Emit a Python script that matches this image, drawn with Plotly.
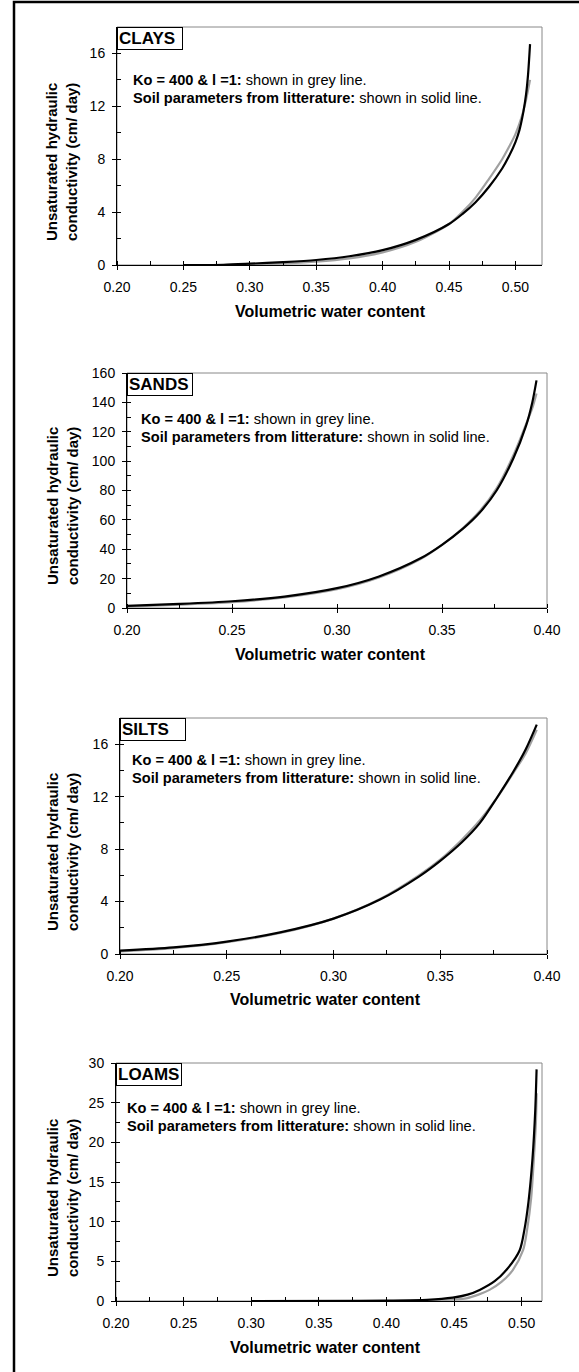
import plotly.graph_objects as go

W, H = 579, 1372

# ---------------- data ----------------
# CLAYS
clays_x_lit = [0.25, 0.28, 0.30, 0.325, 0.35, 0.375, 0.40, 0.425, 0.45, 0.46, 0.47, 0.48, 0.49, 0.495, 0.50, 0.503, 0.506, 0.508, 0.5095, 0.511]
clays_k_lit = [0.0, 0.02, 0.1, 0.22, 0.38, 0.66, 1.12, 1.9, 3.1, 3.85, 4.75, 5.9, 7.3, 8.2, 9.3, 10.2, 11.6, 12.9, 14.4, 16.7]
clays_x_ko = [0.25, 0.28, 0.30, 0.325, 0.35, 0.375, 0.40, 0.425, 0.45, 0.46, 0.47, 0.48, 0.49, 0.495, 0.50, 0.505, 0.508, 0.511]
clays_k_ko = [0.0, 0.0, 0.03, 0.12, 0.25, 0.5, 0.95, 1.75, 3.1, 4.0, 5.1, 6.5, 8.0, 8.9, 9.9, 11.3, 12.5, 14.0]

# SANDS
sands_x_lit = [0.20, 0.225, 0.25, 0.275, 0.30, 0.32, 0.34, 0.35, 0.36, 0.368, 0.376, 0.384, 0.39, 0.393, 0.395]
sands_k_lit = [1.5, 2.8, 4.6, 7.8, 13.5, 21.5, 34, 43, 54, 65, 80, 102, 124, 140, 155]
sands_x_ko = [0.20, 0.225, 0.25, 0.275, 0.30, 0.32, 0.34, 0.35, 0.36, 0.368, 0.376, 0.384, 0.39, 0.393, 0.395]
sands_k_ko = [1.0, 2.3, 4.0, 7.2, 12.8, 20.8, 33.5, 43, 54.5, 66, 81.5, 104, 125, 136, 146]

# SILTS
silts_x_lit = [0.20, 0.225, 0.25, 0.275, 0.30, 0.3218, 0.34, 0.35, 0.36, 0.3686, 0.3765, 0.3842, 0.39, 0.3952]
silts_k_lit = [0.25, 0.5, 0.95, 1.65, 2.7, 4.15, 5.9, 7.1, 8.5, 10.0, 11.9, 13.9, 15.6, 17.5]
silts_x_ko = [0.20, 0.225, 0.25, 0.275, 0.30, 0.3218, 0.34, 0.35, 0.36, 0.3686, 0.3765, 0.3842, 0.39, 0.3952]
silts_k_ko = [0.2, 0.45, 0.9, 1.6, 2.7, 4.2, 6.0, 7.2, 8.7, 10.2, 11.9, 13.8, 15.3, 17.1]

# LOAMS
loams_x_lit = [0.30, 0.38, 0.40, 0.43, 0.449, 0.46, 0.4689, 0.48, 0.4886, 0.4985, 0.502, 0.505, 0.508, 0.510, 0.511]
loams_k_lit = [0.0, 0.02, 0.05, 0.15, 0.42, 0.8, 1.4, 2.5, 3.9, 6.4, 9.0, 12.5, 18.0, 24.0, 29.2]
loams_x_ko = [0.30, 0.40, 0.43, 0.45, 0.459, 0.468, 0.4762, 0.485, 0.4934, 0.501, 0.504, 0.507, 0.509, 0.5105, 0.511]
loams_k_ko = [0.0, 0.0, 0.05, 0.2, 0.34, 0.8, 1.4, 2.4, 3.9, 6.4, 9.0, 13.0, 18.0, 22.5, 26.2]

panel_names = ["CLAYS", "SANDS", "SILTS", "LOAMS"]
x_ticks_clay = [0.20, 0.25, 0.30, 0.35, 0.40, 0.45, 0.50]
x_ticks_sand = [0.20, 0.25, 0.30, 0.35, 0.40]

note_ko_bold = "Ko = 400 & l =1:"
note_ko_text = " shown in grey line."
note_lit_bold = "Soil parameters from litterature:"
note_lit_text = " shown in solid line."
y_title = "Unsaturated hydraulic<br>conductivity (cm/ day)"
x_title = "Volumetric water content"

# ---------------- layout (pixel geometry) ----------------
panels = [
    dict(name=panel_names[0], xl=clays_x_lit, yl=clays_k_lit, xg=clays_x_ko, yg=clays_k_ko,
         xr=[0.2, 0.52], yr=[0, 18], ydt=4, ymdt=2, xt=x_ticks_clay,
         L=117, R=542, T=27, B=265, note_x=131, note_y=80, xt_x=330, yt_y=162),
    dict(name=panel_names[1], xl=sands_x_lit, yl=sands_k_lit, xg=sands_x_ko, yg=sands_k_ko,
         xr=[0.2, 0.4], yr=[0, 160], ydt=20, ymdt=10, xt=x_ticks_sand,
         L=127, R=547, T=373, B=608, note_x=139, note_y=419, xt_x=330, yt_y=506),
    dict(name=panel_names[2], xl=silts_x_lit, yl=silts_k_lit, xg=silts_x_ko, yg=silts_k_ko,
         xr=[0.2, 0.4], yr=[0, 18], ydt=4, ymdt=2, xt=x_ticks_sand,
         L=120, R=547, T=718, B=954, note_x=130, note_y=760, xt_x=325, yt_y=852),
    dict(name=panel_names[3], xl=loams_x_lit, yl=loams_k_lit, xg=loams_x_ko, yg=loams_k_ko,
         xr=[0.2, 0.515], yr=[0, 30], ydt=5, ymdt=2.5, xt=x_ticks_clay,
         L=116, R=542, T=1063, B=1301, note_x=125, note_y=1108, xt_x=325, yt_y=1198),
]

FONT = "Arial, Liberation Sans, sans-serif"
GREY = "#a0a0a0"


def fx(px):
    return px / W


def fy(py):
    return 1 - py / H


fig = go.Figure()
layout = dict(width=W, height=H, margin=dict(l=0, r=0, t=0, b=0, autoexpand=False),
              paper_bgcolor="white", plot_bgcolor="white", showlegend=False,
              font=dict(family=FONT, color="black", size=14))
annotations = []
shapes = []

for i, p in enumerate(panels):
    n = i + 1
    no = n + 4
    xa = "x" if n == 1 else f"x{n}"
    ya = "y" if n == 1 else f"y{n}"
    xkey = "xaxis" if n == 1 else f"xaxis{n}"
    ykey = "yaxis" if n == 1 else f"yaxis{n}"

    fig.add_trace(go.Scatter(x=p["xg"], y=p["yg"], mode="lines", xaxis=xa, yaxis=ya,
                             line=dict(color=GREY, width=2.2, shape="spline", smoothing=0.8),
                             hoverinfo="skip"))
    fig.add_trace(go.Scatter(x=p["xl"], y=p["yl"], mode="lines", xaxis=xa, yaxis=ya,
                             line=dict(color="black", width=2.2, shape="spline", smoothing=0.8),
                             hoverinfo="skip"))
    fig.add_trace(go.Scatter(x=[None], y=[None], xaxis=f"x{no}", yaxis=f"y{no}",
                             mode="lines", hoverinfo="skip"))

    xdom = [fx(p["L"]), fx(p["R"])]
    ydom = [fy(p["B"]), fy(p["T"])]

    layout[xkey] = dict(domain=xdom, anchor=ya, range=p["xr"], tickvals=p["xt"],
                        tickformat=".2f", ticks="outside", ticklen=4, tickwidth=1,
                        tickcolor="black", showline=True, linecolor="black", linewidth=1,
                        showgrid=False, zeroline=False, ticklabelstandoff=5, automargin=False,
                        tickfont=dict(size=14, family=FONT, color="black"),
                        minor=dict(dtick=0.025, tick0=0.2, ticks="inside", ticklen=4,
                                   tickwidth=1, tickcolor="black"))
    layout[ykey] = dict(domain=ydom, anchor=xa, range=p["yr"], dtick=p["ydt"], tick0=0,
                        ticks="outside", ticklen=4, tickwidth=1, tickcolor="black",
                        showline=True, linecolor="black", linewidth=1, showgrid=False,
                        zeroline=False, ticklabelstandoff=4, automargin=False,
                        tickfont=dict(size=14, family=FONT, color="black"),
                        minor=dict(dtick=p["ymdt"], tick0=0, ticks="inside", ticklen=4,
                                   tickwidth=1, tickcolor="black"))
    layout[f"xaxis{no}"] = dict(overlaying=xa, anchor=ya, range=p["xr"], tickvals=p["xt"],
                                ticks="inside", ticklen=4, tickwidth=1, tickcolor="black",
                                showticklabels=False, showline=False, showgrid=False,
                                zeroline=False, side="bottom", automargin=False)
    layout[f"yaxis{no}"] = dict(overlaying=ya, anchor=xa, range=p["yr"], dtick=p["ydt"], tick0=0,
                                ticks="inside", ticklen=4, tickwidth=1, tickcolor="black",
                                showticklabels=False, showline=False, showgrid=False,
                                zeroline=False, side="left", automargin=False)

    shapes.append(dict(type="rect", xref=f"{xa} domain", yref=f"{ya} domain",
                       x0=0, x1=1, y0=0, y1=1, line=dict(color="#888888", width=1),
                       layer="below"))

    annotations.append(dict(text=f"<b>{p['name']}</b>", xref="paper", yref="paper",
                            x=fx(p["L"]), y=fy(p["T"]), xanchor="left", yanchor="top",
                            showarrow=False, align="left", width=62, height=19,
                            font=dict(size=17, family=FONT, color="black"),
                            bordercolor="black", borderwidth=1, borderpad=1,
                            bgcolor="white"))
    annotations.append(dict(text=f"<b>{note_ko_bold}</b>{note_ko_text}", xref="paper", yref="paper",
                            x=fx(p["note_x"]), y=fy(p["note_y"]), xanchor="left", yanchor="middle",
                            showarrow=False, font=dict(size=14.6, family=FONT, color="black")))
    annotations.append(dict(text=f"<b>{note_lit_bold}</b>{note_lit_text}", xref="paper", yref="paper",
                            x=fx(p["note_x"]), y=fy(p["note_y"] + 18), xanchor="left", yanchor="middle",
                            showarrow=False, font=dict(size=14.6, family=FONT, color="black")))
    annotations.append(dict(text=f"<b>{x_title}</b>", xref="paper", yref="paper",
                            x=fx(p["xt_x"]), y=fy(p["B"] + 46), xanchor="center", yanchor="middle",
                            showarrow=False, font=dict(size=16, family=FONT, color="black")))
    annotations.append(dict(text=f"<b>{y_title}</b>", xref="paper", yref="paper",
                            x=fx(62), y=fy(p["yt_y"]), xanchor="center", yanchor="middle",
                            textangle=-90, showarrow=False,
                            font=dict(size=15, family=FONT, color="black")))

shapes.append(dict(type="rect", xref="paper", yref="paper", x0=fx(14), x1=1.1,
                   y0=-0.1, y1=fy(2), line=dict(color="black", width=2.5)))

layout["annotations"] = annotations
layout["shapes"] = shapes
fig.update_layout(**layout)

fig.write_html("out.html", config={"displayModeBar": False},
               post_script="document.body.style.margin='0';document.body.style.overflow='hidden';")
